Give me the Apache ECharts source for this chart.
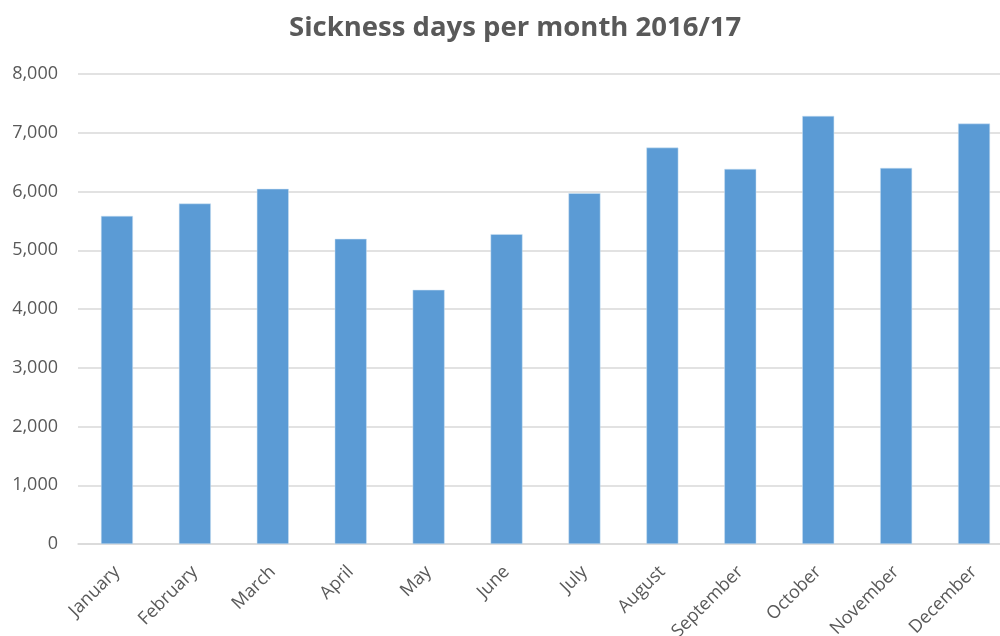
<!DOCTYPE html>
<html>
<head>
<meta charset="utf-8">
<script src="https://cdn.jsdelivr.net/npm/echarts@6/dist/echarts.min.js"></script>
<style>
	html, body { margin: 0; padding: 0; background: #fff; }
	#chart { width: 1000px; height: 636px; }
</style>
</head>
<body>
<div id="chart"></div>
<script>
(function() {

	// months
	var months = ["January", "February", "March", "April", "May", "June",
		"July", "August", "September", "October", "November", "December"];

	// sickness days
	var sicknessDays = [5585, 5795, 6045, 5194, 4326, 5274,
		5971, 6747, 6385, 7287, 6402, 7156];

	// y ticks
	var yTicks = [0, 1000, 2000, 3000, 4000, 5000, 6000, 7000, 8000];

	var fontFamily = "'Open Sans', sans-serif";
	var textColor = "#595959";

	var option = {
		"backgroundColor": "#fff",
		"animation": false,
		"title": {
			"text": "Sickness days per month 2016/17",
			"left": 284,
			"top": 9,
			"textStyle": {
				"color": textColor,
				"fontFamily": fontFamily,
				"fontSize": 27.5,
				"fontWeight": "bold"
			}
		},
		"grid": {
			"left": 78,
			"width": 935,
			"top": 74,
			"height": 470,
			"containLabel": false,
			"outerBoundsMode": "none"
		},
		"xAxis": {
			"type": "category",
			"data": months,
			"axisLine": {
				"lineStyle": {
					"color": "#d9d9d9",
					"width": 1.5
				}
			},
			"axisTick": {
				"show": false
			},
			"axisLabel": {
				"rotate": 45,
				"margin": 25,
				"interval": 0,
				"color": textColor,
				"fontFamily": fontFamily,
				"fontSize": 18
			}
		},
		"yAxis": {
			"type": "value",
			"min": yTicks[0],
			"max": yTicks[yTicks.length - 1],
			"interval": yTicks[1] - yTicks[0],
			"axisLine": {
				"show": false
			},
			"axisTick": {
				"show": false
			},
			"splitLine": {
				"lineStyle": {
					"color": "#d9d9d9",
					"width": 1.5
				}
			},
			"axisLabel": {
				"margin": 20,
				"color": textColor,
				"fontFamily": fontFamily,
				"fontSize": 18,
				"formatter": function(v) {
					return v.toLocaleString("en-US");
				}
			}
		},
		"series": [{
			"type": "bar",
			"data": sicknessDays,
			"barWidth": "41%",
			"itemStyle": {
				"color": "#5b9bd5",
				"borderColor": "#cfe2f3",
				"borderWidth": 0.5
			}
		}]
	};

	var chart = echarts.init(document.getElementById("chart"));
	chart.setOption(option);

})();
</script>
</body>
</html>
